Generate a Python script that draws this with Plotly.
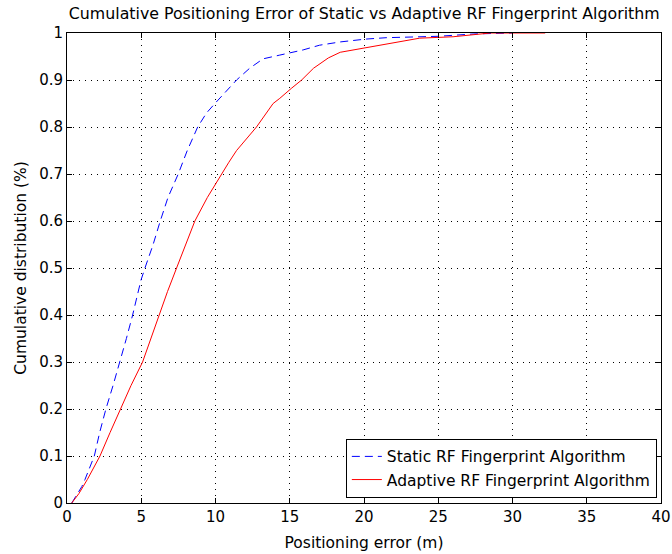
import plotly.graph_objects as go

# Empirical CDF of positioning error (m) for the two algorithms
static_err = [0.32, 0.7, 1.0, 1.21, 1.5, 1.84, 2.2, 2.62, 3.1, 3.57, 4.0, 4.42, 4.98, 5.25,
              5.8, 6.28, 6.8, 7.49, 8.1, 8.8, 9.4, 9.96, 10.7, 11.42, 12.3, 13.2, 14.33,
              15.9, 17.0, 18.4, 20.1, 21.5, 25.0, 27.4, 30.0]
static_cdf = [0.0, 0.02, 0.035, 0.05, 0.075, 0.1, 0.15, 0.2, 0.25, 0.3, 0.35, 0.4, 0.474, 0.5,
              0.55, 0.6, 0.65, 0.7, 0.75, 0.8, 0.83, 0.85, 0.875, 0.9, 0.925, 0.945, 0.953,
              0.964, 0.974, 0.981, 0.987, 0.99, 0.993, 0.998, 1.0]

adaptive_err = [0.32, 0.8, 1.37, 1.8, 2.22, 2.9, 3.61, 4.31, 5.09, 5.65, 6.19, 6.77, 7.38,
                8.0, 8.61, 9.45, 10.4, 10.9, 11.42, 12.1, 12.76, 13.88, 14.33, 15.1, 15.8,
                16.6, 17.6, 18.4, 19.3, 20.1, 21.5, 22.4, 23.75, 26.0, 28.5, 32.2]
adaptive_cdf = [0.0, 0.02, 0.05, 0.075, 0.1, 0.15, 0.2, 0.25, 0.3, 0.35, 0.4, 0.45, 0.5,
                0.55, 0.6, 0.65, 0.7, 0.725, 0.75, 0.775, 0.8, 0.85, 0.861, 0.882, 0.9,
                0.925, 0.947, 0.959, 0.964, 0.969, 0.976, 0.981, 0.989, 0.992, 1.0, 1.0]

x_ticks = [0, 5, 10, 15, 20, 25, 30, 35, 40]
y_ticks = [0, 0.1, 0.2, 0.3, 0.4, 0.5, 0.6, 0.7, 0.8, 0.9, 1]
y_tick_labels = ["0", "0.1", "0.2", "0.3", "0.4", "0.5", "0.6", "0.7", "0.8", "0.9", "1"]

FONT = "DejaVu Sans, Verdana, sans-serif"

fig = go.Figure()
fig.add_trace(go.Scatter(
    x=static_err, y=static_cdf, mode="lines",
    name="Static RF Fingerprint Algorithm",
    line=dict(color="#0000ff", width=1, dash="8px,5px"),
))
fig.add_trace(go.Scatter(
    x=adaptive_err, y=adaptive_cdf, mode="lines",
    name="Adaptive RF Fingerprint Algorithm",
    line=dict(color="#ff0000", width=1),
))

axis_common = dict(
    automargin=False,
    showline=True, linecolor="black", linewidth=1, mirror="ticks",
    ticks="inside", ticklen=5, tickcolor="black",
    showgrid=True, gridcolor="black", gridwidth=1, griddash="1px,5px",
    zeroline=False, tickfont=dict(family=FONT, size=15, color="black"),
)

fig.update_xaxes(range=[0, 40], tickvals=x_ticks, ticktext=[str(v) for v in x_ticks],
                 title=dict(text="Positioning error (m)", font=dict(family=FONT, size=15.5, color="black"),
                            standoff=12),
                 **axis_common)
fig.update_yaxes(range=[0, 1], tickvals=y_ticks, ticktext=y_tick_labels,
                 title=dict(text="Cumulative distribution (%)", font=dict(family=FONT, size=15.5, color="black"),
                            standoff=8),
                 **axis_common)

fig.update_layout(
    width=672, height=554,
    margin=dict(l=67, r=11, t=33, b=51),
    paper_bgcolor="white", plot_bgcolor="white",
    title=dict(text="Cumulative Positioning Error of Static vs Adaptive RF Fingerprint Algorithm",
               font=dict(family=FONT, size=15.8, color="black"),
               x=0.542, xanchor="center", y=0.975, yanchor="middle"),
    legend=dict(x=0.993, y=0.011, xanchor="right", yanchor="bottom",
                bgcolor="white", bordercolor="black", borderwidth=1,
                font=dict(family=FONT, size=15.5, color="black"),
                tracegroupgap=0),
    showlegend=True,
)

fig.write_html("out.html")
